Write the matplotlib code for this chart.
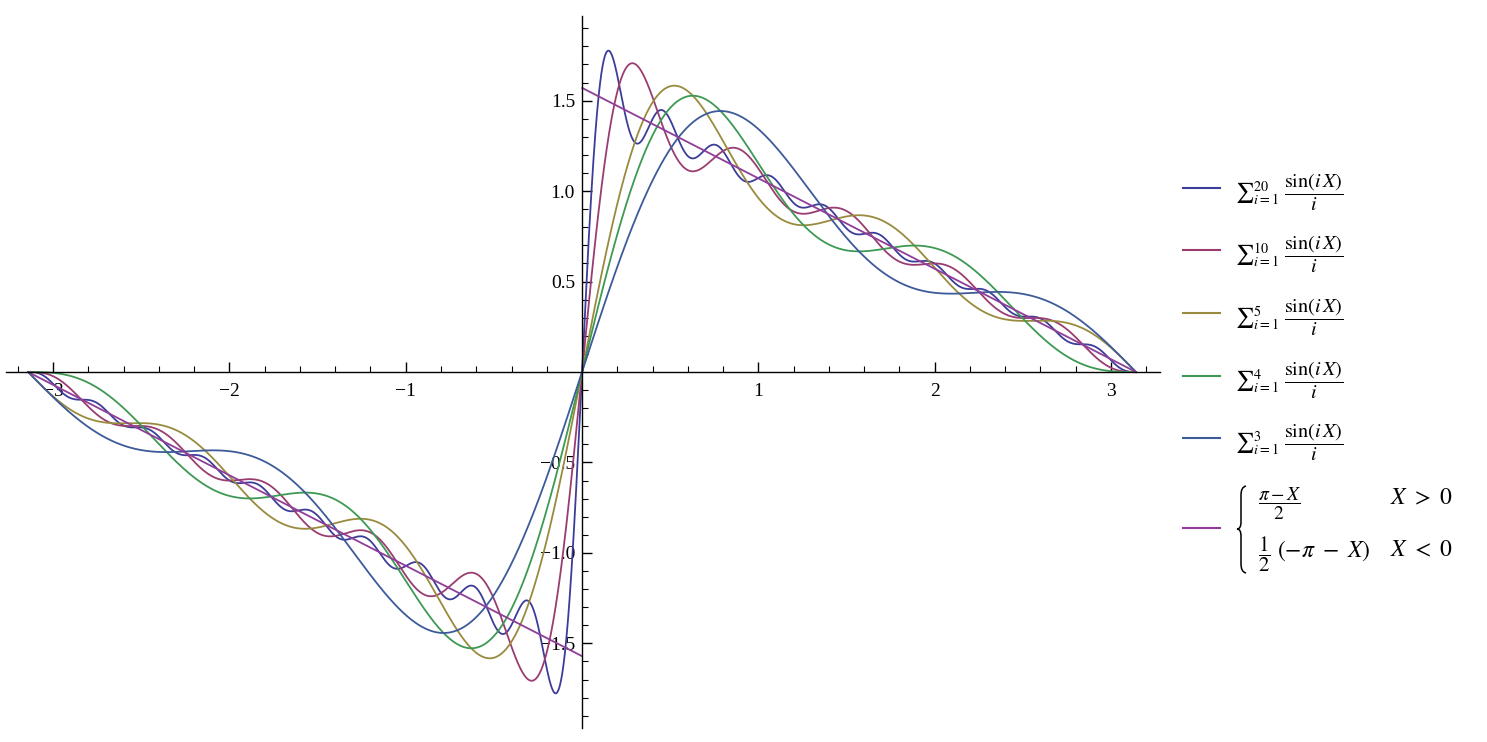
import numpy as np
import matplotlib.pyplot as plt
from matplotlib.lines import Line2D
from matplotlib.path import Path
from matplotlib.patches import PathPatch
from matplotlib.ticker import MultipleLocator, FixedLocator

plt.rcParams['mathtext.fontset'] = 'stix'
plt.rcParams['font.family'] = ['Liberation Serif', 'DejaVu Serif']

# number of terms in each partial sum, in legend order
n_terms = [20, 10, 5, 4, 3]
colors = ['#3d3d99', '#993d71', '#998b3d', '#3d9954', '#3d5a99']
limit_color = '#8f3d99'

x_ticks = [-3, -2, -1, 1, 2, 3]
y_ticks = [-1.5, -1.0, -0.5, 0.5, 1.0, 1.5]

X = np.linspace(-np.pi, np.pi, 4001)

fig = plt.figure(figsize=(14.87, 7.42), dpi=100)
ax = fig.add_axes([6 / 1487, 1 - 728 / 742, (1160 - 6) / 1487, (728 - 16) / 742])

for n, c in zip(n_terms, colors):
    s = sum(np.sin(i * X) / i for i in range(1, n + 1))
    ax.plot(X, s, color=c, lw=1.3)

xp = X[X > 0]
xn = X[X < 0]
ax.plot(xp, (np.pi - xp) / 2, color=limit_color, lw=1.3)
ax.plot(xn, (-np.pi - xn) / 2, color=limit_color, lw=1.3)

ax.set_xlim(-3.267, 3.278)
ax.set_ylim(-1.968, 1.968)

for side in ['top', 'right']:
    ax.spines[side].set_visible(False)
ax.spines['left'].set_position(('data', 0))
ax.spines['bottom'].set_position(('data', 0))
for side in ['left', 'bottom']:
    ax.spines[side].set_linewidth(1.0)

ax.xaxis.set_major_locator(FixedLocator(x_ticks))
ax.yaxis.set_major_locator(FixedLocator(y_ticks))
ax.xaxis.set_minor_locator(MultipleLocator(0.2))
ax.yaxis.set_minor_locator(MultipleLocator(0.1))
ax.set_xticklabels(['\u2212' + str(-t) if t < 0 else str(t) for t in x_ticks])
ax.set_yticklabels(['\u2212%.1f' % -t if t < 0 else '%.1f' % t for t in y_ticks])
ax.tick_params(which='major', direction='in', length=7, width=1.0, labelsize=14)
ax.tick_params(axis='x', which='major', pad=8)
ax.tick_params(axis='y', which='major', pad=5)
ax.tick_params(which='minor', direction='in', length=4, width=0.8)

# legend drawn by hand on the right
W, H = 1487, 742


def fx(px):
    return px / W


def fy(py):
    return 1 - py / H


rows = [188, 250, 313, 376, 438]
for n, c, y in zip(n_terms, colors, rows):
    fig.add_artist(Line2D([fx(1183), fx(1220)], [fy(y)] * 2, color=c, lw=1.5))
    fig.text(fx(1235), fy(y + 4),
             r'${\sum}_{i=1}^{%d}\ \dfrac{\sin(i\,X)}{i}$' % n,
             fontsize=14.5, va='center', ha='left')

y = 528
fig.add_artist(Line2D([fx(1183), fx(1220)], [fy(y)] * 2, color=limit_color, lw=1.5))

# curly brace of the piecewise entry
brace_pts = [(1246, 486), (1241, 487), (1241, 495), (1241, 522),
             (1241, 529), (1237, 529), (1241, 529), (1241, 536),
             (1241, 564), (1241, 572), (1246, 573)]
brace_codes = [Path.MOVETO, Path.CURVE3, Path.CURVE3, Path.LINETO,
               Path.CURVE3, Path.CURVE3, Path.CURVE3, Path.CURVE3,
               Path.LINETO, Path.CURVE3, Path.CURVE3]
brace = Path([(fx(px), fy(py)) for px, py in brace_pts], brace_codes)
fig.add_artist(PathPatch(brace, fill=False, lw=1.1, color='black',
                         transform=fig.transFigure))

fig.text(fx(1258), fy(504), r'$\dfrac{\pi-X}{2}$', fontsize=14, va='center', ha='left')
fig.text(fx(1258), fy(554), r'$\dfrac{1}{2}$', fontsize=15, va='center', ha='left')
fig.text(fx(1277), fy(551), r'$(-\pi\ -\ X)$', fontsize=17, va='center', ha='left')
fig.text(fx(1390), fy(499), r'$X\ >\ 0$', fontsize=17, va='center', ha='left')
fig.text(fx(1390), fy(551), r'$X\ <\ 0$', fontsize=17, va='center', ha='left')

fig.savefig('out.png', dpi=100)
